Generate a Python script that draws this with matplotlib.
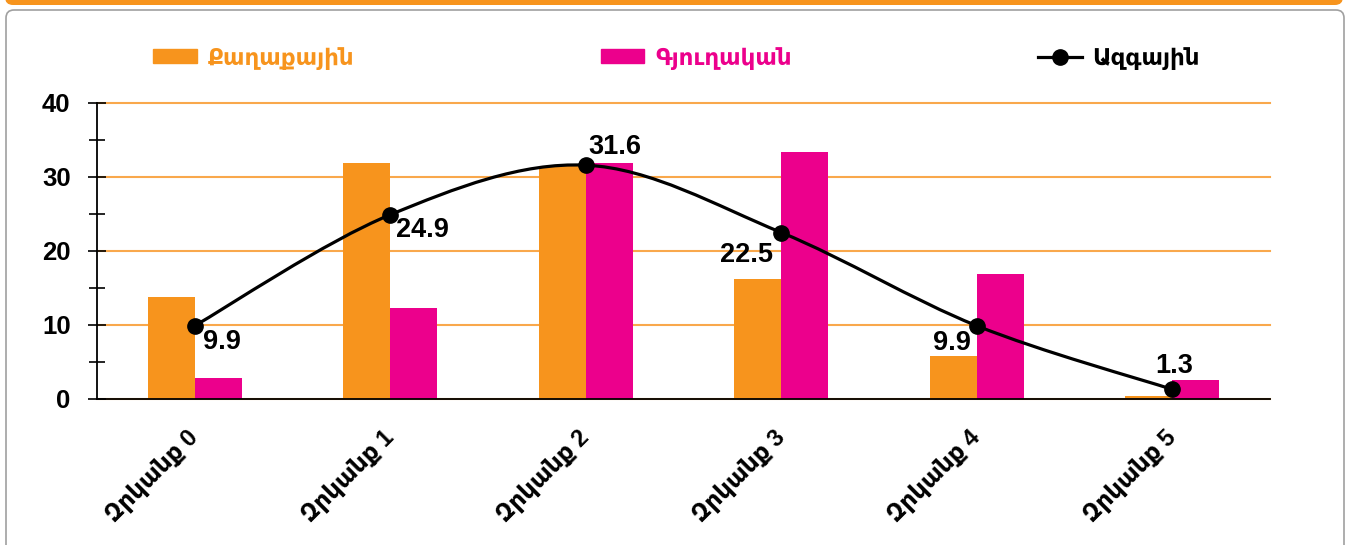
import numpy as np
import matplotlib
matplotlib.use('Agg')
import matplotlib.pyplot as plt
import matplotlib.transforms as mtransforms
from matplotlib.path import Path
from matplotlib.patches import PathPatch, FancyBboxPatch, Patch
from matplotlib.lines import Line2D
from matplotlib.ticker import MultipleLocator

categories = ['Զրկանք 0', 'Զրկանք 1', 'Զրկանք 2', 'Զրկանք 3', 'Զրկանք 4', 'Զրկանք 5']
urban = [13.8, 31.9, 31.5, 16.2, 5.8, 0.45]
rural = [2.8, 12.3, 31.9, 33.4, 16.9, 2.6]
national = [9.9, 24.9, 31.6, 22.5, 9.9, 1.3]
series_names = ['Քաղաքային', 'Գյուղական', 'Ազգային']

ORANGE = '#F7941D'
PINK = '#EC008C'
GRID = '#F9A84C'

plt.rcParams['font.family'] = ['Liberation Sans', 'DejaVu Sans']
plt.rcParams['font.weight'] = 'bold'

fig = plt.figure(figsize=(13.49, 5.45), dpi=100)
W, H = 1349, 545
ax = fig.add_axes([97 / W, (H - 399) / H, (1270 - 97) / W, 296 / H])
ax.set_zorder(2)
ax.patch.set_visible(False)

# frame: orange strip on top and rounded grey panel
fig.patches.append(FancyBboxPatch((0.05, 5.40), 13.38, 0.3,
                                  boxstyle='round,pad=0,rounding_size=0.08',
                                  transform=fig.dpi_scale_trans, facecolor=ORANGE,
                                  edgecolor='none', zorder=-2))
fig.patches.append(FancyBboxPatch((0.06, -0.3), 13.38, 5.65,
                                  boxstyle='round,pad=0,rounding_size=0.08',
                                  transform=fig.dpi_scale_trans, facecolor='white',
                                  edgecolor='#A0A0A0', linewidth=1.2, zorder=-2))

x = np.arange(len(categories))
bw = 0.24
ax.bar(x - bw / 2, urban, bw, color=ORANGE, zorder=2)
ax.bar(x + bw / 2, rural, bw, color=PINK, zorder=2)

# smoothed line (bezier through the points)
pts = np.column_stack([x, national])
ext = np.vstack([pts[0], pts, pts[-1]])
verts = [pts[0]]
codes = [Path.MOVETO]
for i in range(len(pts) - 1):
    p0, p1, p2, p3 = ext[i], ext[i + 1], ext[i + 2], ext[i + 3]
    verts += [p1 + (p2 - p0) / 6, p2 - (p3 - p1) / 6, p2]
    codes += [Path.CURVE4] * 3
ax.add_patch(PathPatch(Path(verts, codes), facecolor='none', edgecolor='black',
                       lw=2.3, zorder=3))
ax.plot(x, national, 'o', color='black', ms=11, zorder=4)

offsets = [(27, -16), (32, -15), (29, 18), (-35, -22), (-25, -17), (2, 23)]
for xi, v, off in zip(x, national, offsets):
    ax.annotate(f'{v:.1f}', (xi, v), xytext=off, textcoords='offset pixels',
                ha='center', va='center', fontsize=19.5, fontweight='bold', zorder=5)

ax.set_xlim(-0.5, 5.5)
ax.set_ylim(0, 40)
ax.yaxis.set_major_locator(MultipleLocator(10))
ax.yaxis.set_minor_locator(MultipleLocator(5))
ax.grid(axis='y', color=GRID, lw=1.5, zorder=1)
ax.set_axisbelow(True)
for gl in ax.get_ygridlines():
    gl.set_clip_on(False)
for s in ['top', 'right']:
    ax.spines[s].set_visible(False)
ax.spines['left'].set_linewidth(1.3)
ax.spines['bottom'].set_linewidth(1.3)
ax.tick_params(axis='y', which='major', direction='inout', length=13, width=1.2,
               pad=12.5, labelsize=18.5)
ax.tick_params(axis='y', which='minor', direction='inout', length=11, width=1.2)
ax.tick_params(axis='x', length=0, pad=19)
ax.set_xticks(x)
ax.set_xticklabels(categories, rotation=45, ha='right', rotation_mode='anchor',
                   fontsize=17, fontweight='bold')
shift = mtransforms.ScaledTranslation(-8 / 100, 0, fig.dpi_scale_trans)
for lab in ax.get_xticklabels():
    lab.set_transform(lab.get_transform() + shift)
for lab in ax.get_yticklabels():
    lab.set_fontweight('bold')

handles = [Patch(color=ORANGE), Patch(color=PINK),
           Line2D([], [], color='black', lw=2.3, marker='o', ms=11)]
leg = fig.legend(handles, series_names, ncol=3, loc='center left',
                 bbox_to_anchor=(153 / W, 1 - 58 / H), frameon=False,
                 prop={'size': 16.5, 'weight': 'bold'}, handlelength=1.9,
                 handleheight=0.55, handletextpad=0.48, columnspacing=10.75,
                 borderpad=0, borderaxespad=0)
for t, c in zip(leg.get_texts(), [ORANGE, PINK, 'black']):
    t.set_color(c)

fig.savefig('out.png', dpi=100)
